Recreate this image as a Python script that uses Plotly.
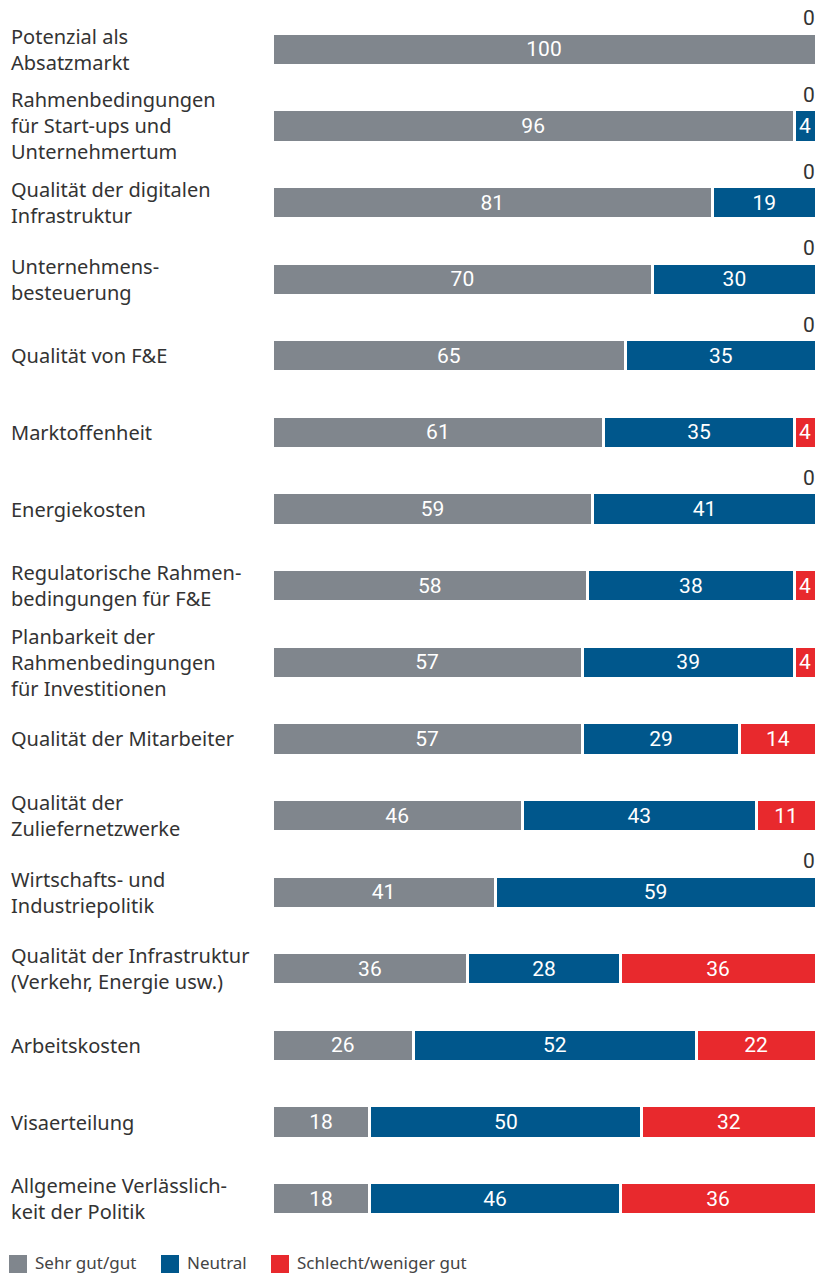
import plotly.graph_objects as go

categories = [
    "Potenzial als<br>Absatzmarkt",
    "Rahmenbedingungen<br>für Start-ups und<br>Unternehmertum",
    "Qualität der digitalen<br>Infrastruktur",
    "Unternehmens-<br>besteuerung",
    "Qualität von F&E",
    "Marktoffenheit",
    "Energiekosten",
    "Regulatorische Rahmen-<br>bedingungen für F&E",
    "Planbarkeit der<br>Rahmenbedingungen<br>für Investitionen",
    "Qualität der Mitarbeiter",
    "Qualität der<br>Zuliefernetzwerke",
    "Wirtschafts- und<br>Industriepolitik",
    "Qualität der Infrastruktur<br>(Verkehr, Energie usw.)",
    "Arbeitskosten",
    "Visaerteilung",
    "Allgemeine Verlässlich-<br>keit der Politik",
]
good = [100, 96, 81, 70, 65, 61, 59, 58, 57, 57, 46, 41, 36, 26, 18, 18]
neutral = [0, 4, 19, 30, 35, 35, 41, 38, 39, 29, 43, 59, 28, 52, 50, 46]
bad = [0, 0, 0, 0, 0, 4, 0, 4, 4, 14, 11, 0, 36, 22, 32, 36]
series_names = ["Sehr gut/gut", "Neutral", "Schlecht/weniger gut"]
colors = ["#80868d", "#00578c", "#e8292d"]

W, H = 816, 1275
ML, MR, MT, MB = 272, 0, 11, 38
PH = H - MT - MB
PW = W - ML - MR

def px_x(px):
    return (px - ML) / PW

def px_y(py):
    return (H - MB - py) / PH

LABEL_FONT = "Noto Sans"
ids = list(range(len(categories)))
fig = go.Figure()
for name, vals, col in zip(series_names, [good, neutral, bad], colors):
    fig.add_trace(go.Bar(
        y=ids, x=vals, orientation="h", name=name,
        marker=dict(color=col, line=dict(color="white", width=3)),
        width=0.42,
        text=[str(v) if v > 0 else "" for v in vals],
        textposition="inside", insidetextanchor="middle",
        constraintext="none",
        textfont=dict(family="Roboto", size=21, color="white"),
        showlegend=False, cliponaxis=False,
    ))

annotations = []
for i, c in enumerate(categories):
    annotations.append(dict(
        x=px_x(9), xref="paper", y=i, yref="y", text=c, showarrow=False,
        xanchor="left", yanchor="middle", align="left",
        font=dict(family=LABEL_FONT, size=20, color="#333333"),
    ))
    if bad[i] == 0:
        annotations.append(dict(
            x=100, xref="x", y=i, yref="y", text="0", showarrow=False,
            xanchor="right", yanchor="middle", yshift=31, xshift=1,
            font=dict(family="Roboto", size=21, color="#333333"),
        ))

shapes = []
leg_x = [9, 161, 271]
for name, col, lx in zip(series_names, colors, leg_x):
    shapes.append(dict(type="rect", xref="paper", yref="paper",
                       x0=px_x(lx), x1=px_x(lx + 18), y0=px_y(1255), y1=px_y(1273),
                       fillcolor=col, line=dict(width=0)))
    annotations.append(dict(
        x=px_x(lx + 24), xref="paper", y=px_y(1263), yref="paper", text=name,
        showarrow=False, xanchor="left", yanchor="middle",
        font=dict(family=LABEL_FONT, size=17, color="#444444"),
    ))

fig.update_layout(
    width=W, height=H, barmode="stack",
    margin=dict(l=ML, r=MR, t=MT, b=MB),
    plot_bgcolor="white", paper_bgcolor="white",
    xaxis=dict(range=[0, 100], visible=False, fixedrange=True),
    yaxis=dict(range=[len(categories) - 0.5, -0.5], visible=False, fixedrange=True),
    annotations=annotations, shapes=shapes,
    showlegend=False,
)
fig.write_html(
    "out.html",
    config={"displayModeBar": False},
    post_script="document.body.style.margin='0';document.body.style.overflow='hidden';"
                "document.documentElement.style.overflow='hidden';",
)
